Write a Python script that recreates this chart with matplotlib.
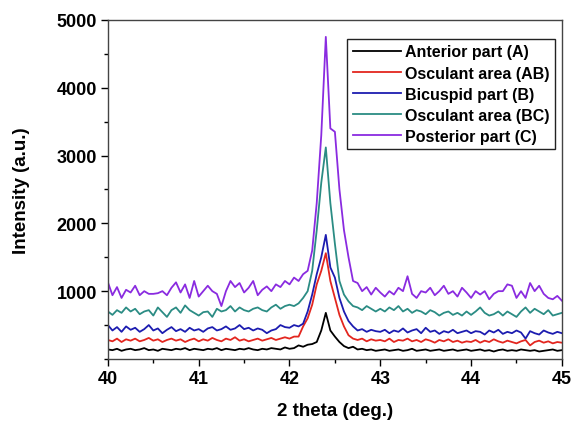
import matplotlib
matplotlib.use("Agg")
import matplotlib.pyplot as plt
from matplotlib.ticker import MultipleLocator
import numpy as np

# 2 theta grid (deg), step 0.05
two_theta = np.round(np.arange(40.0, 45.0001, 0.05), 2)

# intensities, one list per sample region
anterior_A = [
    140, 130, 150, 120, 140, 150, 130, 140, 160, 130, 140, 120, 150, 140, 130, 150, 140, 160, 130, 150,
    140, 130, 150, 140, 160, 130, 150, 140, 130, 150, 140, 160, 140, 130, 150, 140, 160, 150, 140, 170,
    150, 160, 200, 180, 210, 220, 250, 420, 680, 420, 330, 250, 190, 160, 180,
    140, 150, 130, 140, 120,
    130, 140, 120, 130, 140, 120, 130, 150, 120, 130, 140, 120, 130, 140, 120, 130, 140, 120, 130, 140,
    120, 130, 140, 120, 130, 110, 130, 140, 120, 130, 120, 140, 130, 120, 130, 110, 120, 130, 140, 120, 130]

osculant_AB = [
    280, 260, 300, 250, 290, 270, 300, 260, 280, 310, 270, 290, 250, 280, 300, 270, 290, 250, 280, 300,
    260, 290, 270, 310, 280, 260, 300, 280, 320, 270, 290, 260, 280, 300, 270, 290, 310, 280, 300, 320,
    300, 330, 330, 480, 600, 800, 1100, 1300, 1560, 1150, 900, 650, 480, 350, 300,
    280, 300, 260, 290, 270,
    280, 260, 300, 250, 280, 270, 300, 260, 280, 250, 290, 270, 240, 280, 260, 290, 250, 270, 240, 260,
    250, 280, 240, 270, 250, 290, 260, 240, 270, 250, 230, 260, 280, 200, 250, 270, 240, 260, 230, 250, 240]

bicuspid_B = [
    500, 420, 470, 400, 480, 430, 460, 400, 440, 500, 420, 450, 380, 430, 470, 410, 440, 400, 460, 420,
    440, 400, 450, 470, 420, 440, 480, 430, 450, 500, 440, 460, 420, 450, 430, 380, 420, 440, 500, 470,
    460, 500, 480, 520, 700, 950, 1250, 1500, 1830, 1350, 1200, 900, 700, 560, 480,
    420, 440, 400, 430, 410,
    400, 430, 380, 420, 400, 450, 390, 420, 440, 380, 460, 400, 420, 370, 410, 390, 430, 380, 400, 420,
    380, 410, 400, 360, 420, 390, 430, 370, 400, 380, 420, 390, 300, 410, 380, 360, 420, 390, 370, 400, 380]

osculant_BC = [
    700, 650, 720, 680, 760, 700, 740, 660, 700, 720, 640, 760, 690, 620, 720, 760, 680, 790, 720, 680,
    640, 690, 700, 620, 740, 700, 720, 780, 700, 760, 720, 700, 740, 760, 720, 700, 760, 800, 740, 780,
    800, 780, 820, 900, 1000, 1300, 1900, 2600, 3120, 2300, 1700, 1150, 950, 850, 780,
    760, 720, 780, 740, 700,
    740, 700, 760, 720, 780, 700, 740, 680, 720, 700, 660, 720, 690, 640, 680, 700, 650, 680, 640, 700,
    650, 700, 760, 680, 640, 660, 700, 640, 700, 660, 620, 700, 760, 680, 740, 700, 660, 720, 640, 660, 680]

posterior_C = [
    1130, 940, 1060, 900, 1020, 980, 1080, 940, 1000, 960, 960, 970, 1000, 940, 1050, 1130, 980, 1100, 900, 1150,
    920, 1000, 1080, 1000, 960, 780, 1000, 1150, 1060, 1120, 980, 1050, 1150, 940, 1020, 1070, 1000, 1100, 1060, 1150,
    1100, 1200, 1150, 1250, 1300, 1600, 2300, 3300, 4750, 3400, 3350, 2500, 1900, 1500, 1150,
    1120, 1000, 1060, 950, 1050,
    980, 920, 1000, 950, 1050, 1000, 1220, 960, 900, 1000, 980, 1050, 940, 1000, 1080, 960, 1000, 920, 1050, 980,
    900, 1000, 950, 1000, 880, 960, 1000, 1000, 1100, 1080, 900, 1000, 900, 1120, 1000, 1080, 960, 900, 880, 930, 860]

labels = ["Anterior part (A)", "Osculant area (AB)", "Bicuspid part (B)",
          "Osculant area (BC)", "Posterior part (C)"]
colors = ["#000000", "#e3261f", "#1c1cb0", "#2b8c84", "#8a2be0"]

plt.rcParams['font.family'] = ['Liberation Sans', 'DejaVu Sans']
plt.rcParams['font.weight'] = 'bold'

fig = plt.figure(figsize=(5.71, 4.27), dpi=100)
ax = fig.add_axes([0.189, 0.157, 0.795, 0.794])

series = [anterior_A, osculant_AB, bicuspid_B, osculant_BC, posterior_C]
for ys, lab, col in zip(series, labels, colors):
    ax.plot(two_theta, ys, color=col, lw=1.3, label=lab)

ax.set_xlim(40, 45)
ax.set_ylim(0, 5000)
ax.xaxis.set_major_locator(MultipleLocator(1))
ax.xaxis.set_minor_locator(MultipleLocator(0.5))
ax.yaxis.set_major_locator(MultipleLocator(1000))
ax.yaxis.set_minor_locator(MultipleLocator(500))
ax.set_yticks([1000, 2000, 3000, 4000, 5000])
ax.tick_params(which='major', direction='out', length=5, width=1, labelsize=13, pad=3)
ax.tick_params(which='minor', direction='out', length=3, width=1)
for lbl in ax.get_xticklabels() + ax.get_yticklabels():
    lbl.set_fontweight('bold')
for sp in ax.spines.values():
    sp.set_color('#444444')
    sp.set_linewidth(1.0)

ax.set_xlabel("2 theta (deg.)", fontsize=13.5, fontweight='bold', labelpad=11)
ax.set_ylabel("Intensity (a.u.)", fontsize=13.5, fontweight='bold', labelpad=19)

leg = ax.legend(loc='upper right', bbox_to_anchor=(0.985, 0.944), fontsize=11.5,
                handlelength=3.0, handletextpad=0.25, borderpad=0.35, labelspacing=0.38,
                fancybox=False, framealpha=1, edgecolor='#222222', borderaxespad=0)
for t in leg.get_texts():
    t.set_fontweight('bold')

fig.savefig("out.png", dpi=100)
